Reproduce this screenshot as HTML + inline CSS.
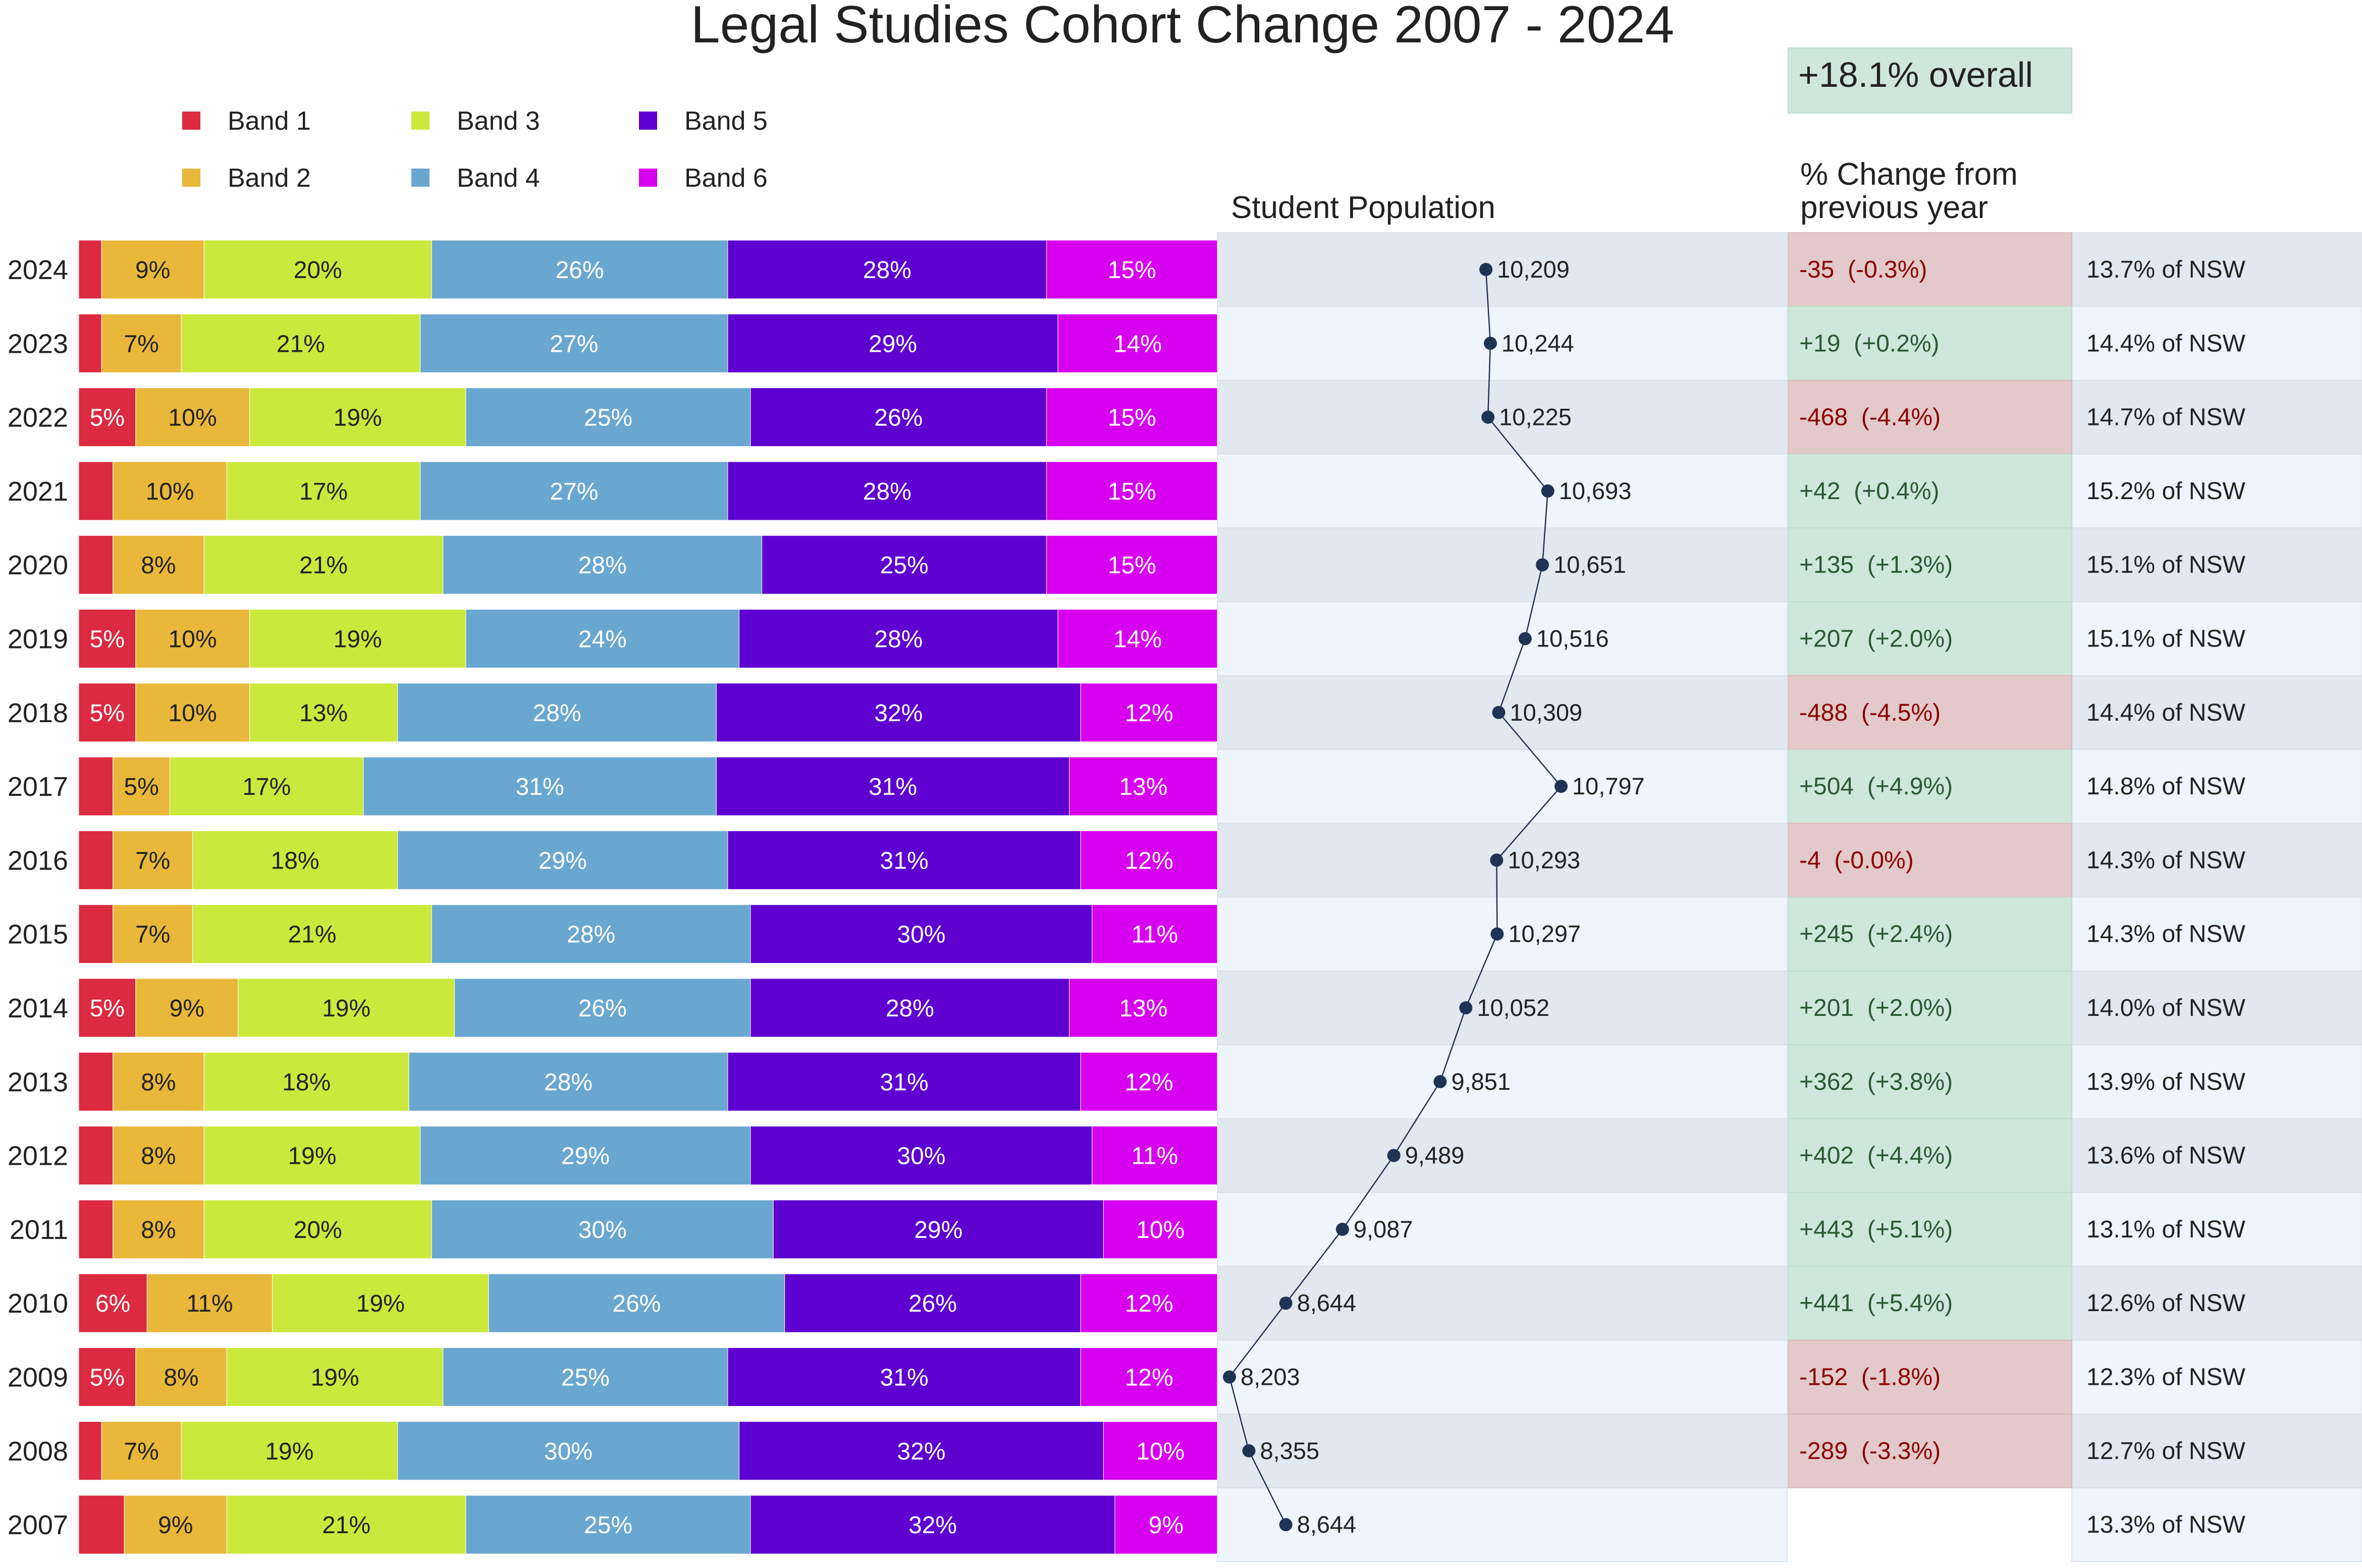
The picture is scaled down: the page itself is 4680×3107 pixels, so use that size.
<!DOCTYPE html>
<html><head><meta charset="utf-8">
<style>
html,body{margin:0;padding:0;background:#fff;}
svg{display:block;font-family:"Liberation Sans",sans-serif;}
.pre{white-space:pre;}
</style></head>
<body>
<svg id="chart" width="4680" height="3107" viewBox="0 0 4680 3107" xmlns="http://www.w3.org/2000/svg">
<text x="2343" y="84" font-size="104" text-anchor="middle" fill="#222">Legal Studies Cohort Change 2007 - 2024</text>
<rect x="3543" y="95" width="562" height="129" fill="#cfe6dc" stroke="#b9dccb" stroke-width="2"/>
<text id="overall" x="3563" y="172" font-size="70" fill="#222"></text>
<text x="2439" y="432" font-size="62" fill="#222">Student Population</text>
<text x="3567" y="366" font-size="62" fill="#222">% Change from</text>
<text x="3567" y="432" font-size="62" fill="#222">previous year</text>
<g id="legend"></g>
<g id="rows"></g>
<g id="bars"></g>
<g id="line"></g>
</svg>
<script>
const years = [2024,2023,2022,2021,2020,2019,2018,2017,2016,2015,2014,2013,2012,2011,2010,2009,2008,2007];
const band1 = [2,2,5,3,3,5,5,3,3,3,5,3,3,3,6,5,2,4];
const band2 = [9,7,10,10,8,10,10,5,7,7,9,8,8,8,11,8,7,9];
const band3 = [20,21,19,17,21,19,13,17,18,21,19,18,19,20,19,19,19,21];
const band4 = [26,27,25,27,28,24,28,31,29,28,26,28,29,30,26,25,30,25];
const band5 = [28,29,26,28,25,28,32,31,31,30,28,31,30,29,26,31,32,32];
const band6 = [15,14,15,15,15,14,12,13,12,11,13,12,11,10,12,12,10,9];
const population = [10209,10244,10225,10693,10651,10516,10309,10797,10293,10297,10052,9851,9489,9087,8644,8203,8355,8644];
const nswShare = ["13.7","14.4","14.7","15.2","15.1","15.1","14.4","14.8","14.3","14.3","14.0","13.9","13.6","13.1","12.6","12.3","12.7","13.3"];
const bandNames = ["Band 1","Band 2","Band 3","Band 4","Band 5","Band 6"];

const NS="http://www.w3.org/2000/svg";
const colors=["#dc2a41","#e9b83b","#cbe93d","#69a7d1","#5e00d0","#d800f0"];
const textCol=["#fff","#222","#222","#fff","#fff","#fff"];
const bands=[band1,band2,band3,band4,band5,band6];
function mk(tag,attrs,parent){const e=document.createElementNS(NS,tag);for(const k in attrs)e.setAttribute(k,attrs[k]);parent.appendChild(e);return e;}
const X0=156,X1=2412;
const rowY=i=>534+i*146.3;
const popX=v=>2436+(v-8203)*0.2533;

const lg=document.getElementById('legend');
const lx=[379,833,1284], ly=[239,352];
bandNames.forEach((n,i)=>{
  const x=lx[Math.floor(i/2)], y=ly[i%2];
  const r=mk('rect',{x:x-18,y:y-18,width:36,height:36,fill:colors[i]},lg);
  
  
  const t=mk('text',{x:x+72,y:y+18,'font-size':52,fill:'#222'},lg);
  
  
  t.textContent=n;
});

const rows=document.getElementById('rows');
const bars=document.getElementById('bars');
years.forEach((yr,i)=>{
  const cy=rowY(i), top=cy-73;
  const bg = i%2===0?"#e2e8f0":"#eef5fd";
  const pr=mk('rect',{x:2412,y:top,width:1129,height:146.3,fill:bg,stroke:'#d5dde8','stroke-width':1.5},rows);
  
  
  const nr=mk('rect',{x:4105,y:top,width:575,height:146.3,fill:bg,stroke:'#d5dde8','stroke-width':1.5},rows);
  
  
  const nt=mk('text',{x:4134,y:cy+16,'font-size':48,fill:'#222'},rows);
  
  
  nt.textContent=nswShare[i]+"% of NSW";
  if(i<years.length-1){
    const prev=population[i+1], d=population[i]-prev, pct=d/prev*100;
    const neg=d<0;
    const cr=mk('rect',{x:3543,y:top,width:562,height:146.3,fill:neg?"#e3c9c9":"#cfe6dc",stroke:neg?"#d4b4b4":"#b9dccb",'stroke-width':1.5},rows);
    
    
    const ct=mk('text',{x:3565,y:cy+16,'font-size':48,fill:neg?"#8b0000":"#2a5a32",'class':'pre'},rows);
    
    
    ct.textContent=(neg?"-":"+")+Math.abs(d)+"  ("+(neg?"-":"+")+Math.abs(pct).toFixed(1)+"%)";
  }
  const yl=mk('text',{x:135,y:cy+19,'font-size':54,'text-anchor':'end',fill:'#222'},bars);
  
  
  yl.textContent=yr;
  let tot=0;bands.forEach(b=>tot+=b[i]);
  let acc=0;
  bands.forEach((b,k)=>{
    const v=b[i];
    const x=X0+acc/tot*(X1-X0), w=v/tot*(X1-X0);
    acc+=v;
    const r=mk('rect',{x:x,y:cy-58,width:w,height:116,fill:colors[k],stroke:'#fff','stroke-width':1},bars);
    
    
    const pv=Math.round(v/tot*100);
    if(v/tot*100>=4.5){
      const t=mk('text',{x:x+w/2,y:cy+17,'font-size':48,'text-anchor':'middle',fill:textCol[k]},bars);
      
      
      t.textContent=pv+"%";
    }
  });
});

const ln=document.getElementById('line');
const pts=population.map((p,i)=>popX(p)+","+rowY(i)).join(" ");
const pl=mk('polyline',{points:pts,fill:'none',stroke:'#1f3355','stroke-width':2.5},ln);


population.forEach((p,i)=>{
  const c=mk('circle',{cx:popX(p),cy:rowY(i),r:13,fill:'#1f3355'},ln);
  
  
  const t=mk('text',{x:popX(p)+22,y:rowY(i)+16,'font-size':47,fill:'#222'},ln);
  
  
  t.textContent=p.toLocaleString('en-US');
});
const first=population[population.length-1], last=population[0];
const ov=(last-first)/first*100;
document.getElementById('overall').textContent=(ov>=0?"+":"")+ov.toFixed(1)+"% overall";
</script>
</body></html>
